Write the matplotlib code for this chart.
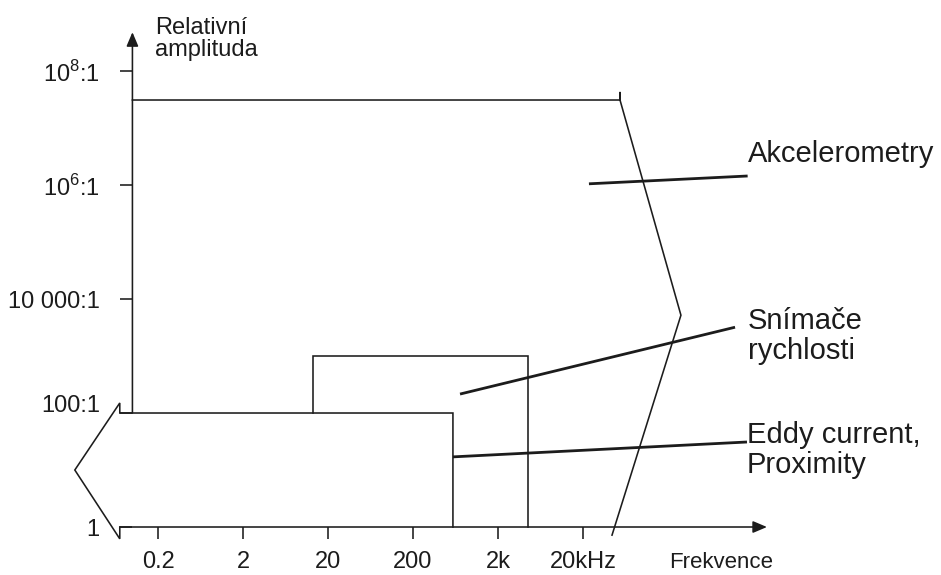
import matplotlib.pyplot as plt
import matplotlib.transforms as mtransforms

plt.rcParams["font.family"] = ["Liberation Sans", "DejaVu Sans"]
plt.rcParams["mathtext.fontset"] = "custom"
plt.rcParams["mathtext.rm"] = "Liberation Sans"

INK = "#1c1c1c"

# axis ticks: frequency in Hz, amplitude as ratio
freq_ticks = [0.2, 2, 20, 200, 2e3, 2e4]
freq_labels = ["0.2", "2", "20", "200", "2k", "20kHz"]
amp_ticks = [1e8, 1e6, 1e4, 1e2, 1]
amp_labels = ["10$^\\mathrm{8}$:1", "10$^\\mathrm{6}$:1", "10 000:1", "100:1", "1"]

# sensor ranges (schematic outlines, frequency / amplitude)
accel_f = [0.1, 5.45e4, 5.45e4, 5.45e4, 2.84e5, 4.39e4]
accel_a = [3.1e7, 3.1e7, 4.3e7, 3.1e7, 5.2e3, 0.72]
velocity_f = [13.3, 13.3, 4.5e3, 4.5e3]
velocity_a = [100, 1e3, 1e3, 1]
eddy_f = [0.071, 0.071, 0.021, 0.071, 0.071, 590, 590]
eddy_a = [1, 0.62, 10, 150, 100, 100, 1]

# leader lines from each region to its label
leaders = {
    "Akcelerometry": ([2.35e4, 1.73e6], [1.05e6, 1.44e6]),
    "Snímače\nrychlosti": ([715, 1.23e6], [215, 3.2e3]),
    "Eddy current,\nProximity": ([590, 1.70e6], [17, 31]),
}

fig = plt.figure(figsize=(9.41, 5.75), dpi=100)
ax = fig.add_axes([0, 0, 1, 1])
ax.set_xscale("log")
ax.set_yscale("log")
# 85 px per decade in x, 57 px per decade in y
ax.set_xlim(10 ** -2.558, 10 ** 8.513)
ax.set_ylim(10 ** -0.842, 10 ** 9.246)
ax.patch.set_visible(False)

for f, a in [(accel_f, accel_a), (velocity_f, velocity_a), (eddy_f, eddy_a)]:
    ax.plot(f, a, color=INK, lw=1.15, solid_joinstyle="miter", clip_on=False)

for f, a in leaders.values():
    ax.plot(f, a, color=INK, lw=2.0, solid_capstyle="butt")

# axes with arrow heads
arrow = dict(arrowstyle="-|>,head_length=0.85,head_width=0.36", color=INK,
             lw=1.15, mutation_scale=10, shrinkA=0, shrinkB=0)
ax.annotate("", xy=(2.92e6, 1), xytext=(0.071, 1), arrowprops=arrow)
ax.annotate("", xy=(0.1, 4.8e8), xytext=(0.1, 100), arrowprops=arrow)

for s in ["top", "right", "left", "bottom"]:
    ax.spines[s].set_visible(False)
ax.spines["left"].set_position(("data", 0.1))
ax.spines["bottom"].set_position(("data", 1))

ax.set_xticks(freq_ticks, freq_labels)
ax.set_yticks(amp_ticks, amp_labels)
ax.minorticks_off()
ax.tick_params(axis="both", direction="out", length=8.5, width=1.15,
               color=INK, labelcolor=INK, labelsize=17)
ax.tick_params(axis="x", pad=9)
ax.tick_params(axis="y", pad=15)

# the 100:1 label sits a little above its tick in the original
lab = ax.get_yticklabels()[3]
lab.set_transform(mtransforms.offset_copy(lab.get_transform(), fig=fig,
                                          y=7, units="points"))

fig.text(155 / 941, 1 - 56 / 575, "Relativní\namplituda", fontsize=17,
         color=INK, ha="left", va="baseline", linespacing=1.0)
fig.text(669 / 941, 1 - 563 / 575, "Frekvence", fontsize=16,
         color=INK, ha="left", va="center")

label_pos = {
    "Akcelerometry": (748, 154),
    "Snímače\nrychlosti": (748, 336),
    "Eddy current,\nProximity": (747, 450),
}
for text, (px, py) in label_pos.items():
    fig.text(px / 941, 1 - py / 575, text, fontsize=21, color=INK,
             ha="left", va="center", linespacing=1.05)

fig.savefig("out.png", dpi=100, facecolor="white")
